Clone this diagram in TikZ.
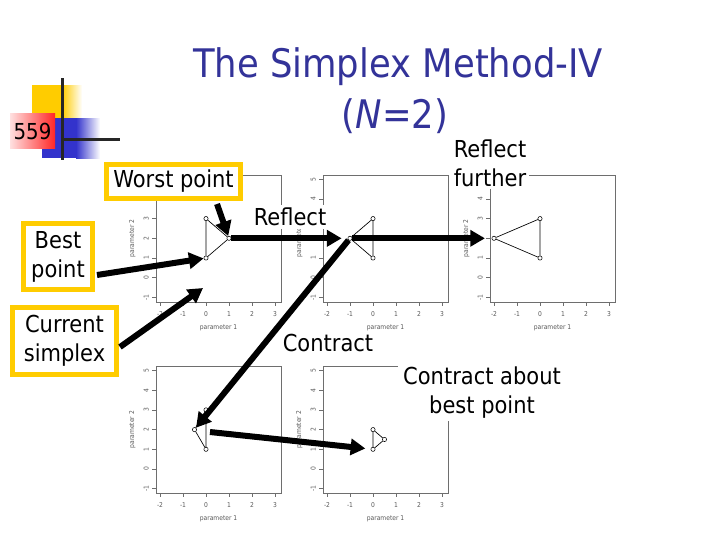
\documentclass[tikz,border=0pt]{standalone}
\usepackage{fontspec}
\setmainfont{DejaVu Sans}[FakeStretch=0.9]
\usetikzlibrary{arrows.meta,shadings}
\definecolor{titleblue}{RGB}{51,51,153}
\definecolor{boxyellow}{RGB}{255,204,0}
\definecolor{logoblue}{RGB}{51,51,204}
\definecolor{framegray}{RGB}{110,110,110}
\newcommand\plotaxes{%
  \draw[frm] (-2.17,-1.24) rectangle (3.26,5.2);
  \foreach \tk in {-2,...,3}{\draw[frm] (\tk,-1.24) -- (\tk,-1.44); \node[tkl] at (\tk,-1.85) {\tk};}
  \foreach \tk in {-1,...,5}{\draw[frm] (-2.17,\tk) -- (-2.34,\tk); \node[tkl,rotate=90] at (-2.6,\tk) {\tk};}
  \node[tkl] at (0.545,-2.55) {parameter 1};
  \node[tkl,rotate=90] at (-3.2,2) {parameter 2};
}
\begin{document}
\begin{tikzpicture}[x=0.75pt,y=-0.75pt,
  lbl/.style={font=\fontsize{17.5}{21.75}\selectfont, align=center, fill=white, inner sep=2pt},
  ybox/.style={lbl, draw=boxyellow, line width=3.75pt},
  frm/.style={draw=framegray, line width=0.5pt},
  tkl/.style={font=\fontsize{5}{6}\selectfont, text=black!65, inner sep=0pt},
  pt/.style={circle, draw=black, fill=white, line width=0.4pt, inner sep=0pt, minimum size=3.2pt},
  tri/.style={draw=black, line width=0.5pt},
  bigarrow/.style={draw=black, line width=4.5pt, -{Triangle[length=11pt,width=12pt]}},
  plotA/.style={shift={(154.5pt,-208.275pt)}, x=17.25pt, y=14.775pt},
  plotB/.style={shift={(279.75pt,-208.275pt)}, x=17.25pt, y=14.775pt},
  plotC/.style={shift={(405pt,-208.275pt)}, x=17.25pt, y=14.775pt},
  plotD/.style={shift={(154.5pt,-351.75pt)}, x=17.25pt, y=14.775pt},
  plotE/.style={shift={(279.75pt,-351.75pt)}, x=17.25pt, y=14.775pt}
]
\useasboundingbox (0,0) rectangle (720,540);
\fill[white] (0,0) rectangle (720,540);

% logo
\fill[boxyellow] (32,85) rectangle (62,118);
\shade[left color=boxyellow, right color=white] (62,85) rectangle (82,118);
\fill[logoblue] (42,118) rectangle (76,158);
\shade[left color=logoblue, right color=white] (76,118) rectangle (100,158);
\shade[left color=red!12!white, right color=red!85!white] (10,113) rectangle (55,148);
\node[font=\fontsize{16.5}{18}\selectfont, inner sep=0pt] (num) at (32.5,131) {559};
\draw[line width=2.25pt, black!85] (62,78) -- (62,160);
\draw[line width=2.25pt, black!85] (62,139) -- (120,139);

% title
\node[font=\fontsize{29.5}{30}\selectfont, text=titleblue, anchor=base, inner sep=0pt] (title) at (398,77) {The Simplex Method-IV};
\node[font=\fontsize{29.5}{30}\selectfont, text=titleblue, anchor=base, inner sep=0pt] (title2) at (395,128) {(\textit{N}=2)};

% plots
\begin{scope}[plotA]
  \plotaxes
  \node[pt] (a1) at (0,3) {};
  \node[pt] (a2) at (1,2) {};
  \node[pt] (a3) at (0,1) {};
  \draw[tri] (a1) -- (a2) -- (a3) -- (a1);
\end{scope}
\begin{scope}[plotB]
  \plotaxes
  \node[pt] (b1) at (0,3) {};
  \node[pt] (b2) at (-1,2) {};
  \node[pt] (b3) at (0,1) {};
  \draw[tri] (b1) -- (b2) -- (b3) -- (b1);
\end{scope}
\begin{scope}[plotC]
  \plotaxes
  \node[pt] (c1) at (0,3) {};
  \node[pt] (c2) at (-2,2) {};
  \node[pt] (c3) at (0,1) {};
  \draw[tri] (c1) -- (c2) -- (c3) -- (c1);
\end{scope}
\begin{scope}[plotD]
  \plotaxes
  \node[pt] (d1) at (0,3) {};
  \node[pt] (d2) at (-0.5,2) {};
  \node[pt] (d3) at (0,1) {};
  \draw[tri] (d1) -- (d2) -- (d3) -- (d1);
\end{scope}
\begin{scope}[plotE]
  \plotaxes
  \node[pt] (e1) at (0,2) {};
  \node[pt] (e2) at (0.5,1.5) {};
  \node[pt] (e3) at (0,1) {};
  \draw[tri] (e1) -- (e2) -- (e3) -- (e1);
\end{scope}

% labels
\node[ybox, minimum width=100.5pt, minimum height=25.5pt] (worst) at (173.5,181.5) {Worst point};
\node[ybox, minimum width=51.75pt, minimum height=49.5pt] (best) at (58,256.5) {Best\\point};
\node[ybox, minimum width=78pt, minimum height=50.25pt] (cur) at (64.5,341) {Current\\simplex};
\node[lbl] (reflect) at (290,217) {Reflect};
\node[lbl] (further) at (490,163) {Reflect\\further};
\node[lbl] (contract) at (328,343) {Contract};
\node[lbl, inner xsep=4pt] (about) at (482,393) {Contract about\\best point};

% arrows
\coordinate (w0) at (217,204);
\coordinate (bp0) at (97,275);
\coordinate (cs0) at (120,347);
\coordinate (cs1) at (203,288);
\coordinate (dd0) at (210,432);
\draw[bigarrow] (w0) -- (a2);
\draw[bigarrow] (bp0) -- (a3);
\draw[bigarrow] (cs0) -- (cs1);
\draw[bigarrow, shorten >=4.5pt] (a2) -- (b2);
\draw[bigarrow, shorten >=5pt] (b2) -- (c2);
\draw[bigarrow] (b2) -- (d2);
\draw[bigarrow, shorten >=4pt] (dd0) -- (e3);
\end{tikzpicture}
\end{document}
